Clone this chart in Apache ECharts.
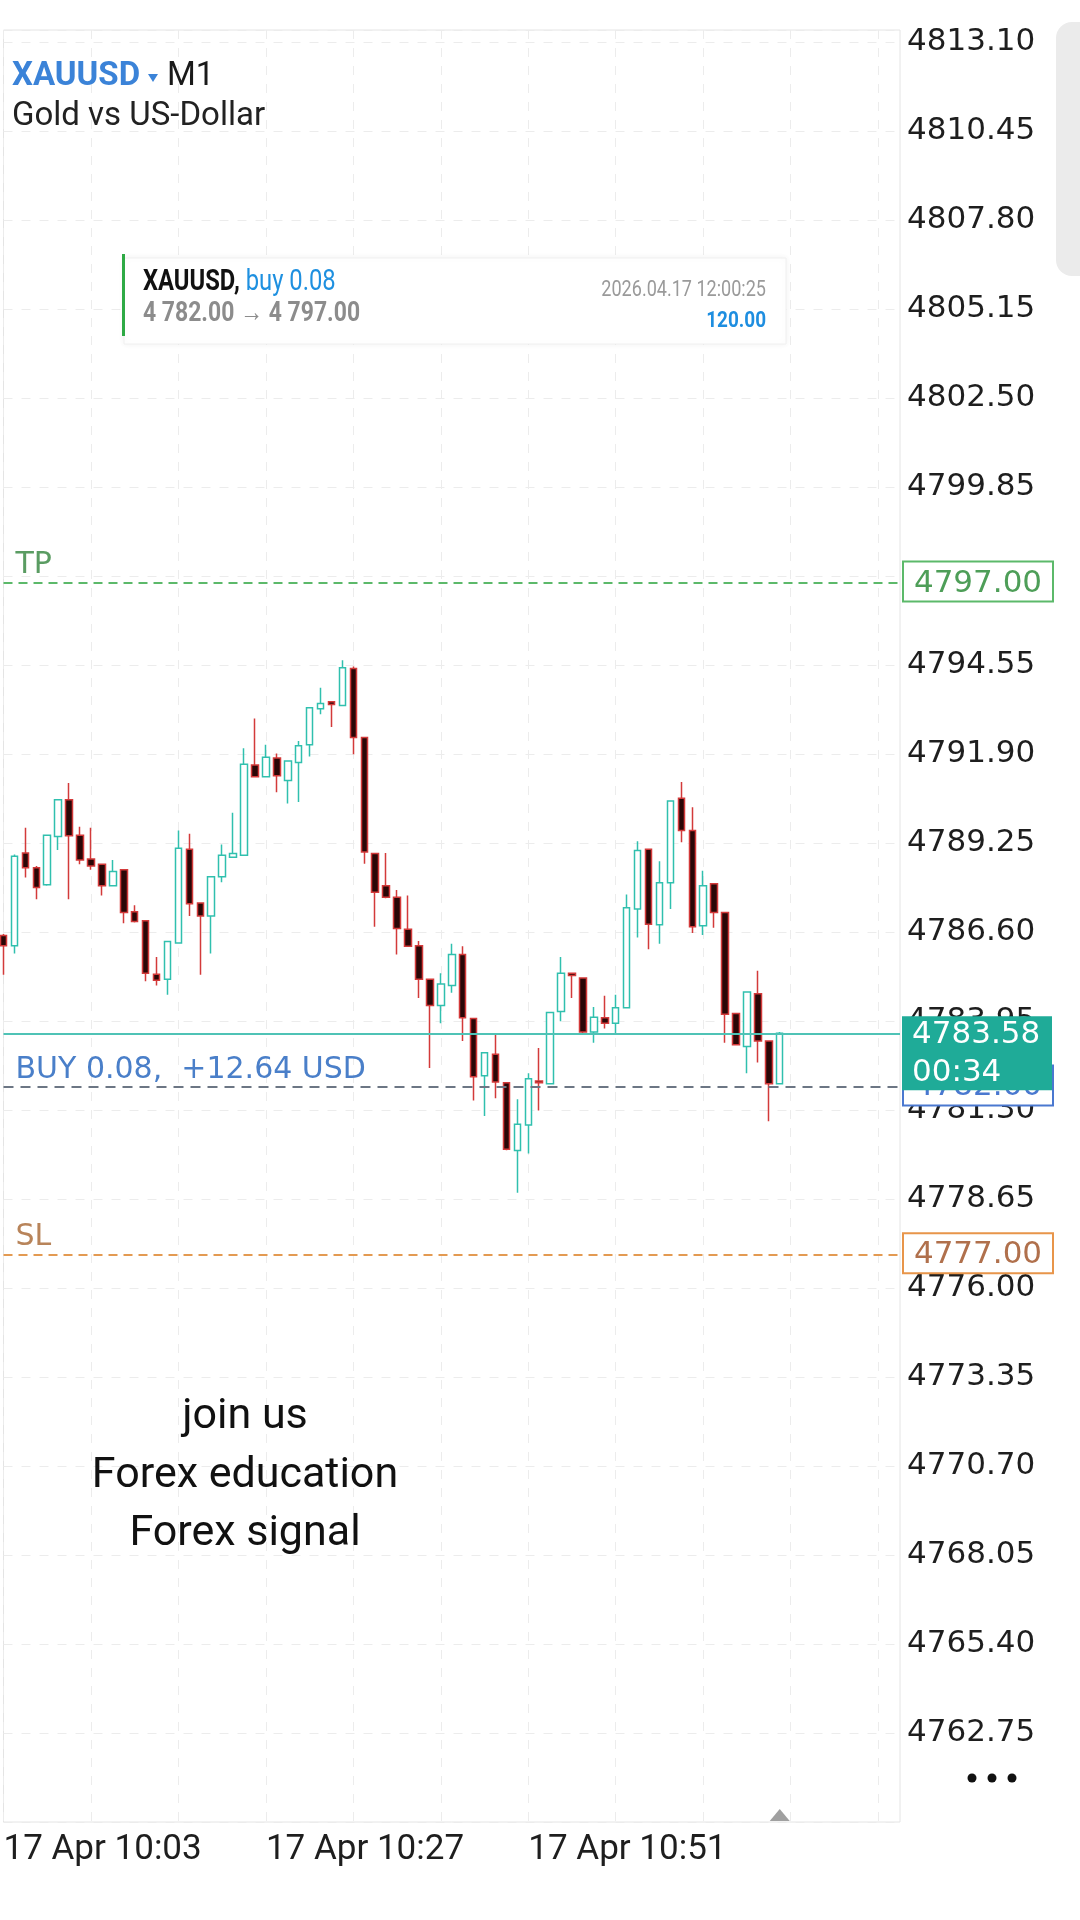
<!DOCTYPE html>
<html>
<head>
<meta charset="utf-8">
<title>XAUUSD M1</title>
<script src="https://cdn.jsdelivr.net/npm/echarts@6.0.0/dist/echarts.min.js"></script>
<style>
  html, body { margin: 0; padding: 0; background: #fff; }
  #chart { width: 1080px; height: 1920px; }
</style>
</head>
<body>
<div id="chart"></div>
<script>
// x categories: one slot per minute, the last ones are empty space on the right
var times = ['10:03','10:04','10:05','10:06','10:07','10:08','10:09','10:10','10:11','10:12',
  '10:13','10:14','10:15','10:16','10:17','10:18','10:19','10:20','10:21','10:22',
  '10:23','10:24','10:25','10:26','10:27','10:28','10:29','10:30','10:31','10:32',
  '10:33','10:34','10:35','10:36','10:37','10:38','10:39','10:40','10:41','10:42',
  '10:43','10:44','10:45','10:46','10:47','10:48','10:49','10:50','10:51','10:52',
  '10:53','10:54','10:55','10:56','10:57','10:58','10:59','11:00','11:01','11:02',
  '11:03','11:04','11:05','11:06','11:07','11:08','11:09','11:10','11:11','11:12',
  '11:13','11:14','11:15','11:16','11:17','11:18','11:19','11:20','11:21','11:22',
  '11:23','11:24','11:25'];
var dayLabel = '17 Apr';

var opens = [4786.49,4786.19,4788.95,4788.51,4788.00,4789.44,4790.53,4789.48,4788.77,4788.61,
  4787.97,4788.45,4787.20,4786.93,4785.34,4785.19,4786.27,4789.06,4787.46,4787.07,
  4788.24,4788.82,4788.88,4791.57,4791.22,4791.78,4791.11,4791.64,4792.17,4793.24,
  4793.45,4793.34,4794.44,4792.39,4788.93,4787.97,4787.63,4786.68,4786.19,4785.19,
  4784.41,4785.00,4785.93,4784.02,4782.32,4782.96,4782.11,4780.09,4780.85,4782.16,
  4782.08,4784.23,4785.37,4785.23,4783.62,4784.04,4783.88,4784.34,4787.28,4789.06,
  4786.81,4788.06,4790.58,4789.62,4786.78,4788.03,4787.18,4784.17,4783.19,4784.76,
  4783.35,4782.08];
var closes = [4786.19,4788.85,4788.51,4787.92,4789.48,4790.53,4789.46,4788.74,4788.56,4787.97,
  4788.40,4787.18,4786.91,4785.37,4785.16,4786.31,4789.09,4787.44,4787.07,4788.24,
  4788.88,4788.93,4791.59,4791.22,4791.80,4791.25,4791.69,4792.14,4793.27,4793.40,
  4793.37,4794.46,4792.39,4788.98,4787.78,4787.63,4786.70,4786.17,4785.19,4784.41,
  4785.05,4785.93,4784.04,4782.29,4783.00,4782.13,4780.13,4780.87,4782.23,4782.11,
  4784.20,4785.37,4785.30,4783.62,4784.06,4783.88,4784.34,4787.32,4789.02,4786.83,
  4788.06,4790.50,4789.62,4786.75,4787.97,4787.18,4784.15,4783.24,4784.81,4783.35,
  4782.08,4783.58];
var lows = [4785.32,4785.96,4788.22,4787.57,4787.97,4789.04,4787.57,4788.61,4788.45,4787.68,
  4787.95,4786.86,4786.88,4785.13,4785.00,4784.73,4786.25,4787.07,4785.32,4785.96,
  4788.08,4788.80,4788.86,4791.20,4791.20,4790.76,4790.42,4790.47,4791.82,4793.08,
  4792.70,4793.32,4791.89,4788.63,4786.75,4787.60,4785.93,4786.15,4784.63,4782.55,
  4783.88,4784.79,4783.35,4781.58,4781.12,4781.65,4780.10,4778.83,4780.00,4781.28,
  4782.06,4783.94,4784.63,4783.58,4783.30,4783.72,4783.56,4784.32,4786.43,4786.08,
  4786.25,4787.28,4789.27,4786.57,4786.51,4786.72,4783.30,4783.22,4782.39,4782.71,
  4780.96,4782.06];
var highs = [4786.54,4788.90,4789.70,4788.56,4789.50,4790.55,4791.03,4789.73,4789.70,4788.63,
  4788.74,4788.47,4787.39,4786.95,4785.85,4786.33,4789.62,4789.52,4787.48,4788.26,
  4789.20,4790.15,4792.07,4792.95,4792.17,4791.91,4791.71,4792.28,4793.29,4793.87,
  4793.47,4794.69,4794.50,4792.41,4788.95,4788.95,4787.85,4787.68,4786.33,4785.21,
  4785.37,4786.25,4786.17,4784.04,4783.02,4783.56,4782.13,4781.62,4782.39,4783.14,
  4784.22,4785.85,4785.39,4785.25,4784.36,4784.70,4784.73,4787.71,4789.30,4789.08,
  4788.70,4790.52,4791.06,4790.31,4788.42,4788.05,4787.20,4784.19,4784.83,4785.44,
  4783.37,4783.62];

// price scale: ticks every 2.65 from the bottom edge
var priceMin = 4760.10;
var priceMax = 4813.45;
var priceStep = 2.65;

// order levels
var tpPrice = 4797.00;
var slPrice = 4777.00;
var entryPrice = 4782.00;
var lastPrice = 4783.58;
var countdown = '00:34';
var lotSize = '0.08';
var profitText = '+12.64 USD';

// header / trade card texts
var symbol = 'XAUUSD';
var period = 'M1';
var symbolDesc = 'Gold vs US-Dollar';
var tradeTime = '2026.04.17 12:00:25';
var tradeRange = '4 782.00 \u2192 4 797.00';
var tradeTarget = '120.00';
var promoLines = ['join us', 'Forex education', 'Forex signal'];

var axisFont = 'DejaVu Sans';
var axisFontSize = 31;

var candles = opens.map(function (o, i) {
  return [o, closes[i], lows[i], highs[i]];
});

var chart = echarts.init(document.getElementById('chart'), null, { renderer: 'canvas' });

var option = {
  animation: false,
  backgroundColor: '#ffffff',
  grid: {
    left: 3.5, right: 180, top: 30, bottom: 98,
    show: true, borderColor: '#e4e4e4', borderWidth: 1
  },
  xAxis: {
    type: 'category',
    data: times,
    boundaryGap: false,
    axisLine: { show: false },
    axisTick: { show: false },
    axisLabel: {
      interval: function (i) { return i % 24 === 0 && i < candles.length; },
      formatter: function (v) { return dayLabel + ' ' + v; },
      align: 'left',
      margin: 11,
      color: '#1e1e1e',
      fontFamily: 'Roboto',
      fontSize: 35
    },
    splitLine: {
      show: true,
      interval: function (i) { return i % 8 === 0; },
      lineStyle: { color: '#ececec', width: 1, type: [9, 9] }
    }
  },
  yAxis: {
    type: 'value',
    position: 'right',
    min: priceMin,
    max: priceMax,
    interval: priceStep,
    scale: true,
    axisLine: { show: false },
    axisTick: { show: false },
    axisLabel: {
      showMinLabel: false,
      showMaxLabel: false,
      margin: 7,
      color: '#1e1e1e',
      fontFamily: axisFont,
      fontSize: axisFontSize,
      formatter: function (v) { return v.toFixed(2); }
    },
    splitLine: {
      show: true,
      lineStyle: { color: '#ececec', width: 1, type: [9, 9] }
    }
  },
  series: [{
    type: 'candlestick',
    data: candles,
    barWidth: 7,
    clip: false,
    itemStyle: {
      color: '#ffffff',
      color0: '#2a0707',
      borderColor: '#30c0ae',
      borderColor0: '#d33a3a',
      borderWidth: 1.5
    },
    markLine: {
      silent: true,
      symbol: ['none', 'none'],
      animation: false,
      data: [
        {
          yAxis: tpPrice,
          lineStyle: { color: '#5cb96a', type: [9, 6], width: 2 },
          label: { show: true, position: 'insideStartTop', formatter: 'TP', color: '#5a9c62',
            fontFamily: axisFont, fontSize: 30, distance: [12, 2] }
        },
        {
          yAxis: slPrice,
          lineStyle: { color: '#e39a52', type: [9, 6], width: 2 },
          label: { show: true, position: 'insideStartTop', formatter: 'SL', color: '#b8845a',
            fontFamily: axisFont, fontSize: 30, distance: [12, 2] }
        },
        {
          yAxis: entryPrice,
          lineStyle: { color: '#6c7684', type: [10, 7], width: 2 },
          label: { show: true, position: 'insideStartTop', formatter: 'BUY ' + lotSize + ',  ' + profitText,
            color: '#4a7fc9', fontFamily: axisFont, fontSize: 30, distance: [12, 1] }
        },
        {
          yAxis: lastPrice,
          lineStyle: { color: '#4fc3b6', type: 'solid', width: 2 },
          label: { show: false }
        }
      ]
    }
  }]
};

chart.setOption(option);

// right side price tags, placed through the y axis scale
function priceTag(value, textColor, borderColor) {
  var y = chart.convertToPixel({ yAxisIndex: 0 }, value);
  return {
    type: 'group', x: 903, y: y, z: 100,
    children: [
      { type: 'rect', z: 100, shape: { x: 0, y: -21, width: 150, height: 40 },
        style: { fill: '#ffffff', stroke: borderColor, lineWidth: 2 } },
      { type: 'text', z: 101, style: { x: 75, y: 1, text: value.toFixed(2), fill: textColor,
        font: axisFontSize + 'px "' + axisFont + '"', align: 'center', verticalAlign: 'middle' } }
    ]
  };
}

var lastY = chart.convertToPixel({ yAxisIndex: 0 }, lastPrice);
var lastX = chart.convertToPixel({ xAxisIndex: 0 }, candles.length - 1);
var gridBottom = 1920 - 98;

var graphics = [
  // header
  { type: 'text', x: 12, y: 77, style: { text: symbol, font: 'bold 33px Roboto', fill: '#3b83d8', verticalAlign: 'middle' } },
  { type: 'polygon', shape: { points: [[148, 74], [158, 74], [153, 82]] }, style: { fill: '#3b83d8' } },
  { type: 'text', x: 167, y: 77, style: { text: period, font: '33px Roboto', fill: '#1a1a1a', verticalAlign: 'middle' } },
  { type: 'text', x: 12, y: 117, style: { text: symbolDesc, font: '33px Roboto', fill: '#222222', verticalAlign: 'middle' } },

  // trade card
  { type: 'rect', shape: { x: 124, y: 258, width: 662, height: 86 },
    style: { fill: '#ffffff', stroke: '#f0f0f0', lineWidth: 1, shadowBlur: 6, shadowColor: 'rgba(0,0,0,0.06)' } },
  { type: 'rect', shape: { x: 122, y: 254, width: 3, height: 82 }, style: { fill: '#2eaa45' } },
  { type: 'text', x: 143, y: 283, scaleX: 0.82,
    style: { text: '{a|' + symbol + ',}{b| buy ' + lotSize + '}', verticalAlign: 'middle',
      rich: { a: { font: 'bold 29px Roboto', fill: '#111111' }, b: { font: '29px Roboto', fill: '#1e90e0' } } } },
  { type: 'text', x: 143, y: 314, scaleX: 0.85,
    style: { text: tradeRange, font: 'bold 27px Roboto', fill: '#8c8c8c', verticalAlign: 'middle' } },
  { type: 'text', x: 766, y: 290, scaleX: 0.82,
    style: { text: tradeTime, font: '22px Roboto', fill: '#9a9a9a', align: 'right', verticalAlign: 'middle' } },
  { type: 'text', x: 766, y: 321, scaleX: 0.86,
    style: { text: tradeTarget, font: 'bold 22px Roboto', fill: '#1e8ee0', align: 'right', verticalAlign: 'middle' } },

  // price tags
  priceTag(tpPrice, '#4e9e58', '#5cb96a'),
  priceTag(slPrice, '#b0704c', '#e8954a'),
  priceTag(entryPrice, '#4a78d0', '#4a78d0'),
  {
    type: 'group', x: 902, y: lastY, z: 110,
    children: [
      { type: 'rect', z: 110, shape: { x: 0, y: -17, width: 150, height: 74 }, style: { fill: '#1fab98' } },
      { type: 'text', z: 111, style: { x: 10, y: 2, text: lastPrice.toFixed(2), fill: '#ffffff',
        font: axisFontSize + 'px "' + axisFont + '"', verticalAlign: 'middle' } },
      { type: 'text', z: 111, style: { x: 10, y: 40, text: countdown, fill: '#ffffff',
        font: axisFontSize + 'px "' + axisFont + '"', verticalAlign: 'middle' } }
    ]
  },

  // promo text
  { type: 'text', x: 245, y: 1417, style: { text: promoLines[0], font: '43px Roboto', fill: '#111111', align: 'center', verticalAlign: 'middle' } },
  { type: 'text', x: 245, y: 1476, style: { text: promoLines[1], font: '43px Roboto', fill: '#111111', align: 'center', verticalAlign: 'middle' } },
  { type: 'text', x: 245, y: 1534, style: { text: promoLines[2], font: '43px Roboto', fill: '#111111', align: 'center', verticalAlign: 'middle' } },

  // scrollbar, menu dots and shift marker
  { type: 'rect', shape: { x: 1056, y: 22, width: 40, height: 254, r: 16 }, style: { fill: '#ebebeb' } },
  { type: 'circle', shape: { cx: 972, cy: 1778, r: 4.5 }, style: { fill: '#111111' } },
  { type: 'circle', shape: { cx: 992, cy: 1778, r: 4.5 }, style: { fill: '#111111' } },
  { type: 'circle', shape: { cx: 1012, cy: 1778, r: 4.5 }, style: { fill: '#111111' } },
  { type: 'polygon', shape: { points: [[lastX - 10, gridBottom - 1], [lastX + 10, gridBottom - 1], [lastX, gridBottom - 13]] },
    style: { fill: '#a0a0a0' } }
];

chart.setOption({ graphic: graphics });
</script>
</body>
</html>
